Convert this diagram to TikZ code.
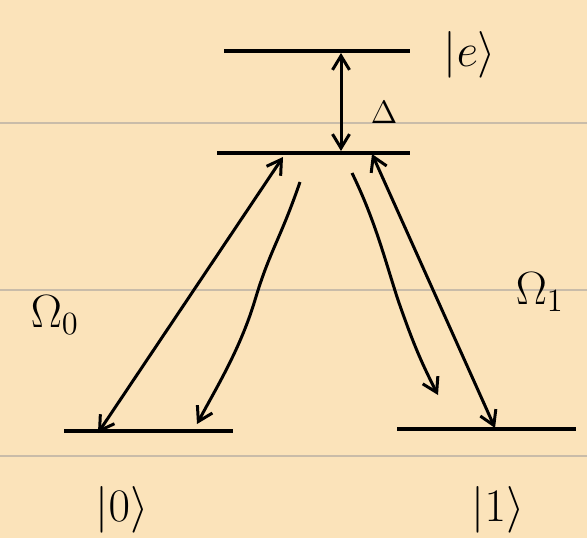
\documentclass[tikz,border=0pt]{standalone}
\usetikzlibrary{arrows.meta}
\definecolor{paper}{HTML}{FBE3BA}
\definecolor{rule}{HTML}{C9BCA9}
\begin{document}
\begin{tikzpicture}[x=1pt,y=-1pt,
  level/.style={line width=4pt},
  ruleline/.style={rule,line width=1.6pt},
  arr/.style={line width=3pt,-{Straight Barb[length=14pt,width=17pt,line width=3pt]}},
  darr/.style={line width=3pt,{Straight Barb[length=14pt,width=17pt,line width=3pt]}-{Straight Barb[length=14pt,width=17pt,line width=3pt]}},
  lbl/.style={font=\LARGE,scale=2.7,inner sep=0pt},
  slbl/.style={lbl,font=\large}]
\fill[paper] (0,0) rectangle (587,538);
\useasboundingbox (0,0) rectangle (587,538);
% ruled paper lines
\draw[ruleline] (0,123) -- (587,123);
\draw[ruleline] (0,290) -- (587,290);
\draw[ruleline] (0,456) -- (587,456);
% levels
\coordinate (eL) at (224,51);  \coordinate (eR) at (410,51);
\coordinate (mL) at (217,153); \coordinate (mR) at (410,153);
\coordinate (gL) at (64,431);  \coordinate (gR) at (233,431);
\coordinate (hL) at (397,429); \coordinate (hR) at (576,429);
\draw[level] (eL) -- (eR);
\draw[level] (mL) -- (mR);
\draw[level] (gL) -- (gR);
\draw[level] (hL) -- (hR);
% labels
\node[lbl] (e) at (470,55) {$|e\rangle$};
\node[slbl] (d) at (384,112) {$\Delta$};
\node[lbl] (g0) at (122,510) {$|0\rangle$};
\node[lbl] (g1) at (498,510) {$|1\rangle$};
\node[lbl] (O0) at (55,315) {$\Omega_0$};
\node[lbl] (O1) at (540,292) {$\Omega_1$};
% detuning arrow
\coordinate (dT) at (341,53);
\coordinate (dB) at (341,151);
\draw[darr] (dT) -- (dB);
% left coupling
\coordinate (a0) at (98,433);
\coordinate (a1) at (283,157);
\draw[darr] (a0) -- (a1);
\coordinate (w0s) at (300,182);
\coordinate (w0e) at (197,424);
\draw[arr] (w0s) .. controls (280,240) and (270,250) .. (255,300) .. controls (240,350) and (215,390) .. (w0e);
% right coupling
\coordinate (a2) at (372,154);
\coordinate (a3) at (495,428);
\draw[darr] (a2) -- (a3);
\coordinate (w1s) at (352,173);
\coordinate (w1e) at (438,395);
\draw[arr] (w1s) .. controls (375,220) and (385,260) .. (398,300) .. controls (412,340) and (420,360) .. (w1e);
\end{tikzpicture}
\end{document}
